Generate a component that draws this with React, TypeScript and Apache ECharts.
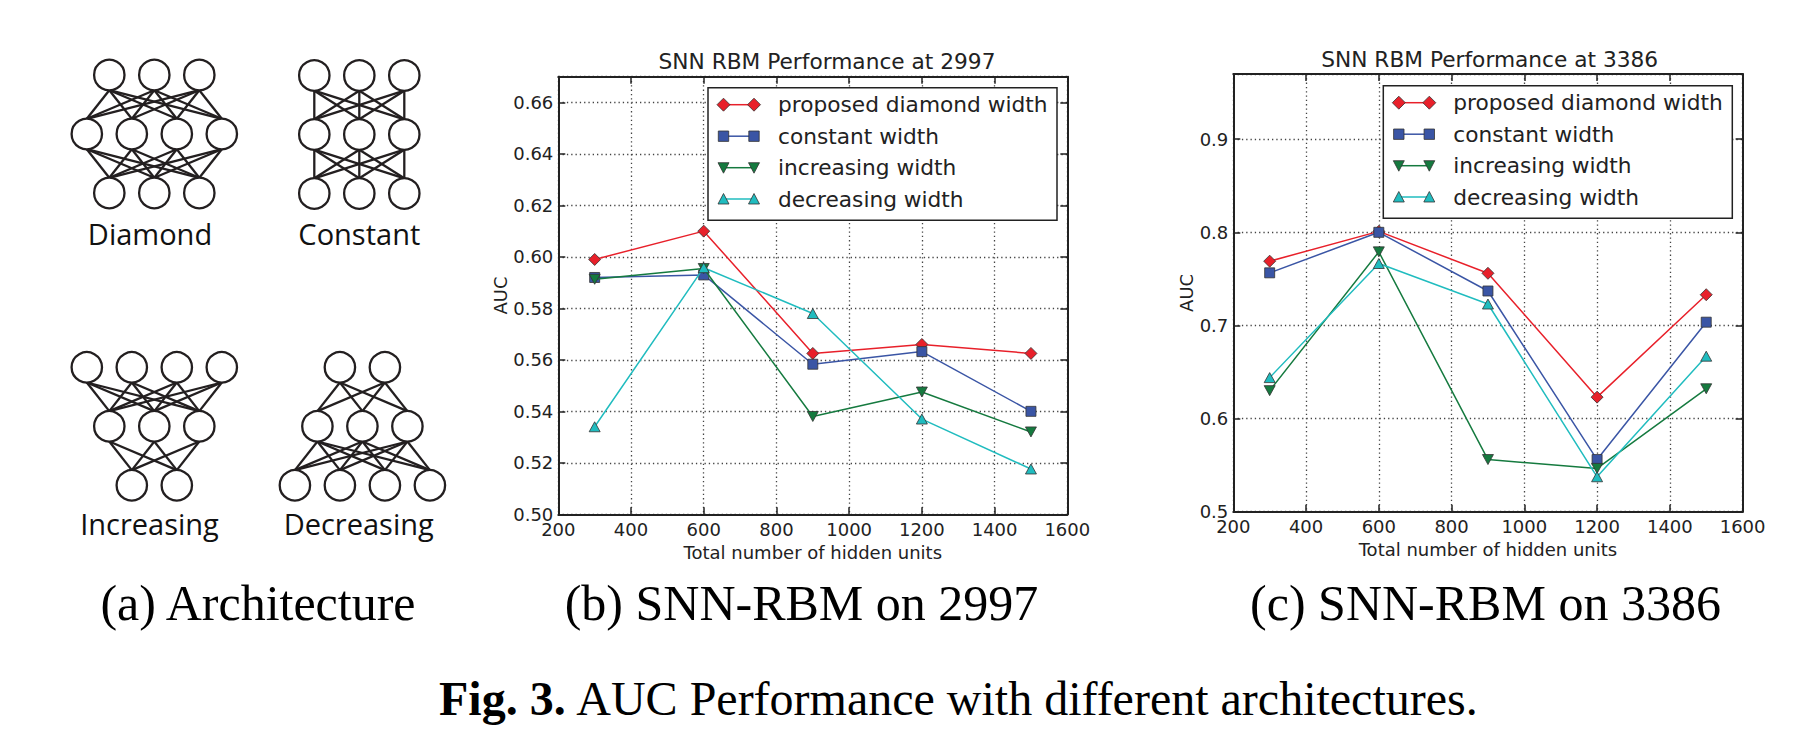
import React, { useEffect, useRef } from "react";
import * as echarts from "echarts";

// ---------------- data ----------------
const hiddenUnits = [300, 600, 900, 1200, 1500];
const seriesNames = ["proposed diamond width", "constant width", "increasing width", "decreasing width"];

const auc2997Diamond = [0.599, 0.610, 0.5625, 0.566, 0.5625];
const auc2997Constant = [0.592, 0.593, 0.5583, 0.5632, 0.540];
const auc2997Increasing = [0.5913, 0.5955, 0.538, 0.5475, 0.532];
const auc2997Decreasing = [0.534, 0.5958, 0.578, 0.537, 0.5176];

const auc3386Diamond = [0.769, 0.801, 0.756, 0.623, 0.733];
const auc3386Constant = [0.7565, 0.800, 0.737, 0.556, 0.7035];
const auc3386Increasing = [0.630, 0.779, 0.556, 0.5465, 0.632];
const auc3386Decreasing = [0.644, 0.7665, 0.723, 0.5375, 0.667];

const xTickMin = 200;
const xTickMax = 1600;
const xTickStep = 200;
const yRange2997 = [0.5, 0.67];
const yStep2997 = 0.02;
const yRange3386 = [0.5, 0.97];
const yStep3386 = 0.1;

const archNames = ["Diamond", "Constant", "Increasing", "Decreasing"];
const archLayers = [
  [3, 4, 3],
  [3, 3, 3],
  [4, 3, 2],
  [2, 3, 4],
];

const panelTitles = ["SNN RBM Performance at 2997", "SNN RBM Performance at 3386"];
const subCaptions = ["(a) Architecture", "(b) SNN-RBM on 2997", "(c) SNN-RBM on 3386"];

// ---------------- styles ----------------
const INK = "#222";
const SANS = "DejaVu Sans";
const seriesStyles = [
  { color: "#e8202a", symbol: "diamond", size: 12, rotate: 0 },
  { color: "#3a55a5", symbol: "rect", size: 10, rotate: 0 },
  { color: "#157a3f", symbol: "triangle", size: [11, 10], rotate: 180 },
  { color: "#20bcbf", symbol: "triangle", size: [11, 10], rotate: 0 },
];

const archLayout = [
  { cx: 154.3, top: 75, labelX: 150, labelY: 233.5 },
  { cx: 359.3, top: 75.5, labelX: 359.3, labelY: 233.5 },
  { cx: 154.3, top: 367.3, labelX: 149.5, labelY: 523 },
  { cx: 362.4, top: 367.3, labelX: 358.7, labelY: 523 },
];

function archGraphics(): any[] {
  const out: any[] = [];
  const gapX = 45;
  const gapY = 59;
  const r = 15.2;
  const stroke = "#231f20";
  archLayers.forEach((layers, k) => {
    const L = archLayout[k];
    const pos = layers.map((n, li) =>
      Array.from({ length: n }, (_, i) => ({ x: L.cx + (i - (n - 1) / 2) * gapX, y: L.top + li * gapY }))
    );
    for (let li = 0; li < pos.length - 1; li++) {
      pos[li].forEach((a) => {
        pos[li + 1].forEach((b) => {
          out.push({
            type: "line",
            shape: { x1: a.x, y1: a.y + r, x2: b.x, y2: b.y - r },
            style: { stroke, lineWidth: 2.3 },
            z: 10,
          });
        });
      });
    }
    pos.forEach((row) =>
      row.forEach((p) => {
        out.push({
          type: "circle",
          shape: { cx: p.x, cy: p.y, r },
          style: { fill: "#fff", stroke, lineWidth: 2.3 },
          z: 11,
        });
      })
    );
    out.push({
      type: "text",
      x: L.labelX,
      y: L.labelY,
      style: { text: archNames[k], fontFamily: "Open Sans", fontSize: 29, fill: "#111", align: "center", verticalAlign: "middle" },
      z: 12,
    });
  });
  return out;
}

function markerShape(kind: number, x: number, y: number, color: string): any {
  const style = { fill: color, stroke: "#333", lineWidth: 0.8 };
  if (kind === 0) {
    const h = 6.5;
    return { type: "polygon", shape: { points: [[x, y - h], [x + h, y], [x, y + h], [x - h, y]] }, style, z: 31 };
  }
  if (kind === 1) {
    return { type: "rect", shape: { x: x - 5.2, y: y - 5.2, width: 10.4, height: 10.4 }, style, z: 31 };
  }
  if (kind === 2) {
    return { type: "polygon", shape: { points: [[x - 5.5, y - 5], [x + 5.5, y - 5], [x, y + 5.5]] }, style, z: 31 };
  }
  return { type: "polygon", shape: { points: [[x, y - 5.5], [x + 5.5, y + 5], [x - 5.5, y + 5]] }, style, z: 31 };
}

function legendGraphics(left: number, top: number): any[] {
  const out: any[] = [];
  out.push({
    type: "rect",
    shape: { x: left, y: top, width: 349, height: 132.5 },
    style: { fill: "#fff", stroke: INK, lineWidth: 1.5 },
    z: 29,
  });
  const rows = [17, 48.5, 80, 111.3];
  seriesNames.forEach((name, i) => {
    const y = top + rows[i];
    const m1 = left + 15.5;
    const m2 = left + 46;
    const c = seriesStyles[i].color;
    out.push({ type: "line", shape: { x1: m1, y1: y, x2: m2, y2: y }, style: { stroke: c, lineWidth: 1.5 }, z: 30 });
    out.push(markerShape(i, m1, y, c));
    out.push(markerShape(i, m2, y, c));
    out.push({
      type: "text",
      x: left + 70,
      y,
      style: { text: name, fontFamily: SANS, fontSize: 21.7, fill: INK, align: "left", verticalAlign: "middle" },
      z: 31,
    });
  });
  return out;
}

const dotted = { color: "#444", width: 1.3, type: [1.3, 3] as any };
const axisLine = { show: true, onZero: false, lineStyle: { color: INK, width: 2 } };
const axisTick = { show: true, inside: true, length: 7, lineStyle: { color: INK, width: 1.5 } };
const labelFont = { fontFamily: SANS, fontSize: 18, color: INK };

function xAxes(gridIndex: number): any[] {
  return [
    {
      type: "value",
      gridIndex,
      position: "bottom",
      min: xTickMin,
      max: xTickMax,
      interval: xTickStep,
      axisLine,
      axisTick,
      axisLabel: { ...labelFont, margin: 6, formatter: (v: number) => String(Math.round(v)) },
      splitLine: { show: true, lineStyle: dotted },
      name: "Total number of hidden units",
      nameLocation: "middle",
      nameGap: 27,
      nameTextStyle: { ...labelFont },
    },
    {
      type: "value",
      gridIndex,
      position: "top",
      min: xTickMin,
      max: xTickMax,
      interval: xTickStep,
      axisLine,
      axisTick,
      axisLabel: { show: false },
      splitLine: { show: false },
    },
  ];
}

function yAxes(gridIndex: number, range: number[], step: number, digits: number, gap: number): any[] {
  return [
    {
      type: "value",
      gridIndex,
      position: "left",
      min: range[0],
      max: range[1],
      interval: step,
      axisLine,
      axisTick,
      axisLabel: { ...labelFont, margin: 5, showMaxLabel: false, formatter: (v: number) => v.toFixed(digits) },
      splitLine: { show: true, lineStyle: dotted },
      name: "AUC",
      nameLocation: "middle",
      nameGap: gap,
      nameTextStyle: { ...labelFont },
    },
    {
      type: "value",
      gridIndex,
      position: "right",
      min: range[0],
      max: range[1],
      interval: step,
      axisLine,
      axisTick,
      axisLabel: { show: false },
      splitLine: { show: false },
    },
  ];
}

function buildSeries(values: number[][], axisIndex: number): any[] {
  return values.map((vals, i) => {
    const s = seriesStyles[i];
    return {
      type: "line",
      name: seriesNames[i],
      xAxisIndex: axisIndex,
      yAxisIndex: axisIndex,
      data: hiddenUnits.map((x, j) => [x, vals[j]]),
      symbol: s.symbol,
      symbolSize: s.size,
      symbolRotate: s.rotate,
      showAllSymbol: true,
      lineStyle: { color: s.color, width: 1.5 },
      itemStyle: { color: s.color, borderColor: "#333", borderWidth: 0.8 },
      emphasis: { disabled: true },
      z: 3 + i,
    };
  });
}

export default function App() {
  const ref = useRef<HTMLDivElement>(null);
  useEffect(() => {
    if (!ref.current) return;
    const chart = echarts.init(ref.current, null, { renderer: "svg" });
    const textEls: any[] = [
      {
        type: "text",
        x: 827,
        y: 61.5,
        style: { text: panelTitles[0], fontFamily: SANS, fontSize: 21.7, fill: INK, align: "center", verticalAlign: "middle" },
      },
      {
        type: "text",
        x: 1489.7,
        y: 59.3,
        style: { text: panelTitles[1], fontFamily: SANS, fontSize: 21.7, fill: INK, align: "center", verticalAlign: "middle" },
      },
      ...[258, 801.5, 1485.5].map((x, i) => ({
        type: "text",
        x,
        y: 603,
        style: { text: subCaptions[i], fontFamily: "Liberation Serif", fontSize: 50, fill: "#000", align: "center", verticalAlign: "middle" },
      })),
      {
        type: "text",
        x: 959,
        y: 698,
        style: {
          text: "{b|Fig. 3.} AUC Performance with different architectures.",
          fontFamily: "Liberation Serif",
          fontSize: 48,
          fill: "#000",
          align: "center",
          verticalAlign: "middle",
          rich: { b: { fontFamily: "Liberation Serif", fontSize: 48, fontWeight: "bold", fill: "#000" } },
        },
      },
    ];
    chart.setOption({
      animation: false,
      backgroundColor: "#fff",
      grid: [
        { left: 558.3, top: 76.7, width: 509, height: 437.6, containLabel: false },
        { left: 1233.3, top: 74, width: 509.3, height: 437.7, containLabel: false },
      ],
      xAxis: [...xAxes(0), ...xAxes(1)],
      yAxis: [...yAxes(0, yRange2997, yStep2997, 2, 49), ...yAxes(1, yRange3386, yStep3386, 1, 38)],
      series: [
        ...buildSeries([auc2997Diamond, auc2997Constant, auc2997Increasing, auc2997Decreasing], 0),
        ...buildSeries([auc3386Diamond, auc3386Constant, auc3386Increasing, auc3386Decreasing], 2),
      ],
      graphic: {
        elements: [...archGraphics(), ...legendGraphics(708, 87.7), ...legendGraphics(1383.3, 85.7), ...textEls],
      },
    });
    return () => chart.dispose();
  }, []);
  return (
    <div
      ref={ref}
      style={{ position: "absolute", left: 0, top: 0, width: 1806, height: 734, background: "#fff" }}
    />
  );
}
